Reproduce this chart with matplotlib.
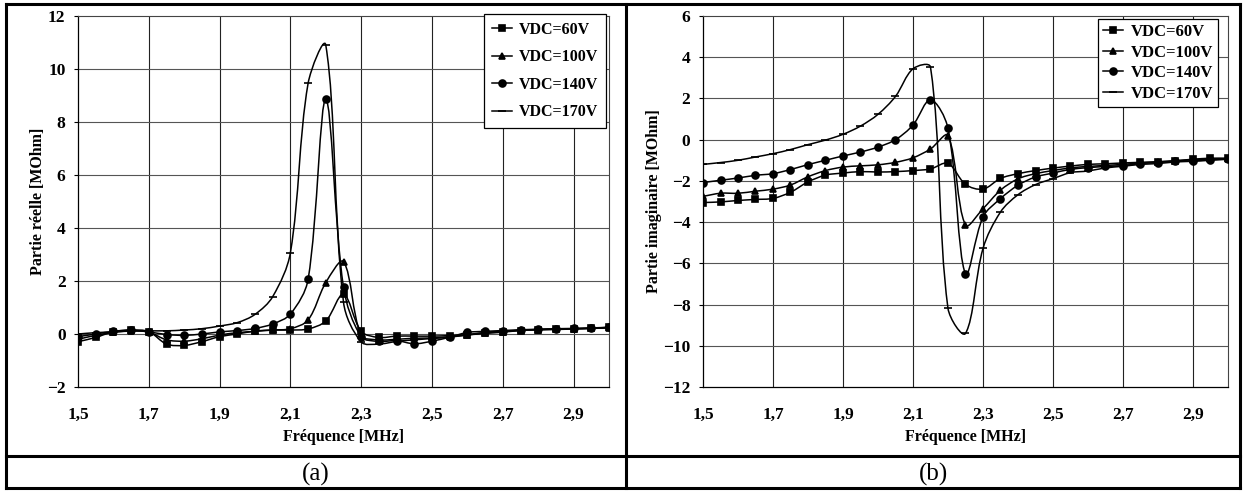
import numpy as np
import matplotlib
matplotlib.use("Agg")
import matplotlib.pyplot as plt
from matplotlib.path import Path
from matplotlib.patches import PathPatch
from matplotlib.lines import Line2D

plt.rcParams['font.family'] = ['Liberation Serif', 'DejaVu Serif']

freq = [1.50, 1.55, 1.60, 1.65, 1.70, 1.75, 1.80, 1.85, 1.90, 1.95, 2.00,
        2.05, 2.10, 2.15, 2.20, 2.25, 2.30, 2.35, 2.40, 2.45, 2.50, 2.55,
        2.60, 2.65, 2.70, 2.75, 2.80, 2.85, 2.90, 2.95, 3.00]

labels = ["VDC=60V", "VDC=100V", "VDC=140V", "VDC=170V"]

# partie reelle [MOhm]
re_60 = [-0.29, -0.13, 0.09, 0.15, 0.09, -0.38, -0.43, -0.29, -0.10, 0.00, 0.11,
         0.15, 0.15, 0.19, 0.49, 1.50, 0.10, -0.13, -0.08, -0.08, -0.08, -0.06,
         -0.03, 0.02, 0.07, 0.13, 0.16, 0.17, 0.19, 0.21, 0.25]
re_100 = [-0.20, -0.05, 0.06, 0.12, 0.07, -0.22, -0.27, -0.18, -0.04, 0.05, 0.10,
          0.15, 0.20, 0.53, 1.94, 2.73, -0.05, -0.22, -0.20, -0.16, -0.15, -0.10,
          -0.04, 0.05, 0.09, 0.14, 0.16, 0.18, 0.20, 0.21, 0.23]
re_140 = [-0.10, 0.00, 0.10, 0.14, 0.08, -0.02, -0.05, 0.00, 0.08, 0.13, 0.21,
          0.38, 0.75, 2.06, 8.85, 1.76, -0.10, -0.28, -0.25, -0.37, -0.27, -0.12,
          0.06, 0.10, 0.13, 0.16, 0.18, 0.20, 0.21, 0.23, 0.25]
re_170 = [0.00, 0.05, 0.08, 0.11, 0.12, 0.12, 0.15, 0.20, 0.30, 0.43, 0.74,
          1.41, 3.07, 9.46, 10.90, 1.20, -0.30, -0.38, -0.28, -0.22, -0.17, -0.12,
          -0.03, 0.06, 0.10, 0.14, 0.17, 0.19, 0.20, 0.22, 0.25]

# partie imaginaire [MOhm]
im_60 = [-3.05, -3.02, -2.95, -2.90, -2.85, -2.55, -2.05, -1.72, -1.62, -1.55, -1.57,
         -1.55, -1.50, -1.42, -1.15, -2.17, -2.40, -1.88, -1.65, -1.50, -1.38, -1.28,
         -1.20, -1.17, -1.13, -1.10, -1.07, -1.02, -0.95, -0.90, -0.90]
im_100 = [-2.75, -2.60, -2.60, -2.50, -2.40, -2.20, -1.80, -1.50, -1.33, -1.27, -1.22,
          -1.10, -0.88, -0.45, 0.20, -4.15, -3.35, -2.45, -1.90, -1.65, -1.50, -1.37,
          -1.30, -1.25, -1.20, -1.13, -1.08, -1.03, -0.97, -0.94, -0.92]
im_140 = [-2.08, -1.97, -1.86, -1.73, -1.65, -1.45, -1.21, -1.00, -0.79, -0.60, -0.36,
          0.00, 0.71, 1.94, 0.55, -6.53, -3.75, -2.86, -2.21, -1.81, -1.62, -1.44,
          -1.36, -1.30, -1.26, -1.16, -1.11, -1.05, -1.03, -0.97, -0.94]
im_170 = [-1.20, -1.11, -1.00, -0.84, -0.68, -0.48, -0.24, -0.02, 0.26, 0.66, 1.23,
          2.10, 3.44, 3.52, -8.19, -9.40, -5.28, -3.51, -2.67, -2.18, -1.89, -1.60,
          -1.52, -1.37, -1.29, -1.20, -1.16, -1.08, -1.05, -1.00, -0.95]

xticks = [1.5, 1.7, 1.9, 2.1, 2.3, 2.5, 2.7, 2.9]
xticklabels = ["1,5", "1,7", "1,9", "2,1", "2,3", "2,5", "2,7", "2,9"]

markers = ['s', '^', 'o', '_']
msizes = [4.5, 5.0, 5.0, 5.5]


def smooth_path(ax, xs, ys):
    # smoothed line like the spreadsheet one, bezier built in screen space
    pts = ax.transData.transform(np.column_stack([xs, ys]))
    n = len(pts)
    verts = [pts[0]]
    codes = [Path.MOVETO]
    for i in range(n - 1):
        p0 = pts[i - 1] if i > 0 else pts[i]
        p1 = pts[i]
        p2 = pts[i + 1]
        p3 = pts[i + 2] if i + 2 < n else pts[i + 1]
        d01 = np.hypot(*(p1 - p0))
        d12 = np.hypot(*(p2 - p1))
        d23 = np.hypot(*(p3 - p2))
        c1 = p1 + (p2 - p0) * d12 / (d01 + d12) / 3
        c2 = p2 - (p3 - p1) * d12 / (d12 + d23) / 3
        verts += [c1, c2, p2]
        codes += [Path.CURVE4] * 3
    verts = ax.transData.inverted().transform(np.array(verts))
    return Path(verts, codes)


def draw_panel(ax, series, ylim, ylabel, ylabelpad, leg_anchor, leg_size,
               leg_spacing, leg_pad):
    ax.set_xlim(1.5, 3.0)
    ax.set_ylim(*ylim)
    ax.set_yticks(np.arange(ylim[0], ylim[1] + 1, 2))
    ax.set_xticks(xticks)
    ax.set_xticklabels(xticklabels)
    for x in xticks[1:]:
        ax.axvline(x, color='#222222', lw=0.8, zorder=1)
    for y in np.arange(ylim[0] + 2, ylim[1], 2):
        ax.axhline(y, color='#555555', lw=0.8, zorder=1)
    for s in ['top', 'right']:
        ax.spines[s].set_color('#444444')
        ax.spines[s].set_linewidth(0.8)
    for s in ['left', 'bottom']:
        ax.spines[s].set_linewidth(0.9)
    ax.tick_params(axis='x', length=0, pad=14, labelsize=12.5)
    ax.tick_params(axis='y', length=3, width=0.8, pad=6, labelsize=12.5)
    for lab in ax.get_xticklabels() + ax.get_yticklabels():
        lab.set_fontweight('bold')
    ax.set_xlabel("Fréquence [MHz]", fontsize=11.5, fontweight='bold', labelpad=5)
    ax.set_ylabel(ylabel, fontsize=11.5, fontweight='bold', labelpad=ylabelpad)

    handles = []
    for ys, m, ms, lab in zip(series, markers, msizes, labels):
        ax.add_patch(PathPatch(smooth_path(ax, freq, ys), fill=False,
                               ec='black', lw=1.1, zorder=3))
        ax.plot(freq, ys, ls='none', marker=m, ms=ms, color='black',
                mew=1.2, zorder=4)
        handles.append(Line2D([], [], color='black', lw=1.1, marker=m,
                              ms=ms, mew=1.2))
    leg = ax.legend(handles, labels, loc='upper right', bbox_to_anchor=leg_anchor,
                    prop={'weight': 'bold', 'size': leg_size}, frameon=True,
                    fancybox=False, edgecolor='black', framealpha=1,
                    handlelength=1.2, handletextpad=0.45,
                    labelspacing=leg_spacing, borderpad=leg_pad,
                    borderaxespad=0)
    leg.get_frame().set_linewidth(0.9)
    leg.set_zorder(10)


fig = plt.figure(figsize=(12.44, 4.91), dpi=100)
W, H = 1244.0, 491.0

ax1 = fig.add_axes([78 / W, 1 - 387 / H, 531 / W, 371 / H])
ax2 = fig.add_axes([703 / W, 1 - 387 / H, 525 / W, 371 / H])

draw_panel(ax1, [re_60, re_100, re_140, re_170], (-2, 12),
           "Partie réelle [MOhm]", 0.5,
           ((606 - 78) / 531, (387 - 14) / 371), 11.5, 0.72, 0.5)
draw_panel(ax2, [im_60, im_100, im_140, im_170], (-12, 6),
           "Partie imaginaire [MOhm]", 0.5,
           ((1218 - 703) / 525, (387 - 19) / 371), 12, 0.28, 0.3)

# table frame around the two figures
def fig_line(x0, y0, x1, y1, lw=2.2):
    fig.add_artist(Line2D([x0 / W, x1 / W], [1 - y0 / H, 1 - y1 / H],
                          color='black', lw=lw, transform=fig.transFigure))

fig_line(6, 4, 1240, 4)
fig_line(6, 488, 1240, 488)
fig_line(6, 4, 6, 488)
fig_line(1240, 4, 1240, 488)
fig_line(626, 4, 626, 488)
fig_line(6, 456, 1240, 456)

fig.text(316 / W, 1 - 474 / H, "(a)", ha='center', va='center', fontsize=18)
fig.text(933 / W, 1 - 474 / H, "(b)", ha='center', va='center', fontsize=18)

fig.savefig("out.png", dpi=100)
